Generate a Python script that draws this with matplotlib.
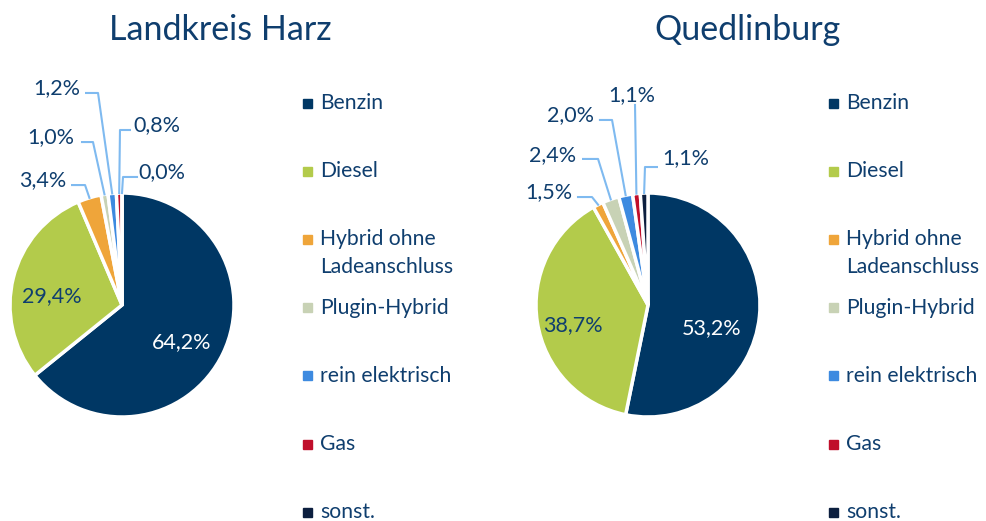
import matplotlib.pyplot as plt
import numpy as np
from matplotlib.patches import Rectangle

plt.rcParams['font.family'] = ['Lato', 'DejaVu Sans']

categories = ['Benzin', 'Diesel', 'Hybrid ohne\nLadeanschluss', 'Plugin-Hybrid',
              'rein elektrisch', 'Gas', 'sonst.']
colors = ['#003764', '#B3CB4B', '#EFA53A', '#C8D2B5', '#3D8AE0', '#C00F2B', '#0C1F3F']

titles = ['Landkreis Harz', 'Quedlinburg']
harz = [64.2, 29.4, 3.4, 1.0, 1.2, 0.8, 0.0]
quedlinburg = [53.2, 38.7, 1.5, 2.4, 2.0, 1.1, 1.1]

text_col = '#0F3E6E'
line_col = '#7FBAF0'

W, H = 986, 521
fig = plt.figure(figsize=(W / 100, H / 100), dpi=100)

R = 112.0  # pie radius in pixels

# label layout per pie (in pie-radius units): text pos, line end near text, elbow
layouts = [
    dict(cx=122, box=(0, 250),
         text=[(0.535, -0.33), (-0.625, 0.080), (-0.705, 1.116), (-0.634, 1.5),
               (-0.580, 1.9375), (0.3125, 1.607), (0.357, 1.1875)],
         lines=[None, None,
                ((-0.446, 1.071), (-0.330, 1.071)),
                ((-0.357, 1.455), (-0.259, 1.455)),
                ((-0.321, 1.893), (-0.214, 1.893)),
                ((0.071, 1.5625), (-0.018, 1.5625)),
                ((0.134, 1.143), (0.009, 1.143))]),
    dict(cx=648, box=(500, 780),
         text=[(0.571, -0.205), (-0.670, -0.179), (-0.884, 1.009), (-0.848, 1.339),
               (-0.6875, 1.696), (-0.143, 1.875), (0.339, 1.3125)],
         lines=[None, None,
                ((-0.625, 0.964), (-0.5, 0.964)),
                ((-0.580, 1.304), (-0.446, 1.304)),
                ((-0.429, 1.652), (-0.321, 1.652)),
                ((-0.116, 1.786), (-0.116, 1.786)),
                ((0.080, 1.232), (-0.027, 1.232))]),
]

cy = 305
ytop, ybot = 60, 430
for vals, title, lay in zip([harz, quedlinburg], titles, layouts):
    x0, x1 = lay['box']
    ax = fig.add_axes([x0 / W, 1 - ybot / H, (x1 - x0) / W, (ybot - ytop) / H])
    wedges, _ = ax.pie(vals, colors=colors, startangle=90, counterclock=False,
                       radius=1, wedgeprops=dict(edgecolor='white', linewidth=2.5))
    ax.set_xlim((x0 - lay['cx']) / R, (x1 - lay['cx']) / R)
    ax.set_ylim((cy - ybot) / R, (cy - ytop) / R)
    ax.set_aspect('auto')
    ax.axis('off')

    for i, (v, w) in enumerate(zip(vals, wedges)):
        lbl = f'{v:.1f}%'.replace('.', ',')
        tx, ty = lay['text'][i]
        col = 'white' if i == 0 else text_col
        ax.text(tx, ty, lbl, ha='center', va='center', fontsize=15.5, color=col)
        if lay['lines'][i] is not None:
            mid = np.deg2rad((w.theta1 + w.theta2) / 2)
            (ex, ey), (bx, by) = lay['lines'][i]
            ax.plot([ex, bx, np.cos(mid)], [ey, by, np.sin(mid)],
                    color=line_col, lw=1.5, clip_on=False)

    # title
    tcx = 220 if x0 == 0 else 748
    fig.text(tcx / W, 1 - 30 / H, title, ha='center', va='center',
             fontsize=24.5, color=text_col)

    # legend
    mx = 307 if x0 == 0 else 833
    for j, (cat, c) in enumerate(zip(categories, colors)):
        yy = 103 + j * 68.2
        fig.patches.append(Rectangle(((mx - 4.5) / W, 1 - (yy + 4.5) / H), 9 / W, 9 / H,
                                     transform=fig.transFigure, color=c))
        for k, part in enumerate(cat.split('\n')):
            fig.text((mx + 13) / W, 1 - (yy + k * 28) / H, part, ha='left',
                     va='center', fontsize=15.2, color=text_col)

fig.savefig('out.png', dpi=100)
